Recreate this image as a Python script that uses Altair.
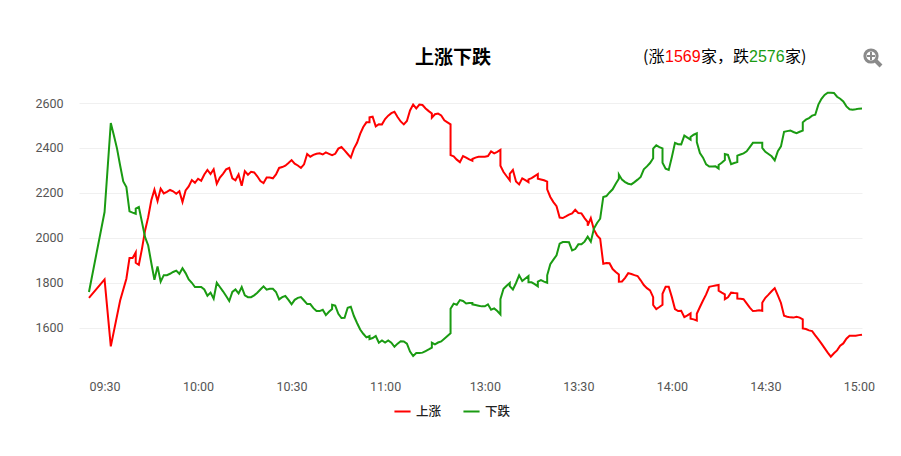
import json
import altair as alt
import pandas as pd

up_x = [0,5,7,10,12,13,14,15,15,16,17,18,19,20,21,22,23,24,25,26,27,28,29,30,31,32,33,34,35,36,37,38,39,40,41,42,43,44,45,46,47,48,49,50,51,52,53,54,55,56,57,58,59,60,61,62,63,64,65,66,67,68,69,70,71,72,73,74,75,76,77,
        78,79,80,81,82,83,84,85,86,87,88,89,90,90,91,92,93,94,95,96,97,98,99,100,101,102,103,104,105,106,107,108,109,110,110,111,112,113,114,115,116,116,117,118,119,120,121,122,123,123,124,125,126,127,128,129,130,131,132,132,133,134,135,135,136,137,138,139,140,141,141,142,143,144,144,145,146,147,147,148,149,150,151,152,153,154,155,156,157,158,159,160,160,
        161,162,163,164,165,166,167,168,169,170,170,171,172,173,174,175,176,177,178,179,180,181,181,182,183,184,184,185,186,187,188,189,190,191,192,193,193,194,195,195,196,197,198,199,200,201,202,202,203,204,204,205,206,207,208,208,209,210,211,212,213,214,215,216,216,217,218,219,220,221,222,223,224,225,226,227,228,229,229,230,231,232,233,234,235,236,237,238,239,240,241,242,243,244,245,246,247,248]
up_v = [1733,1815,1517,1721,1818,1910,1910,1935,1889,1880,1951,2033,2092,2167,2214,2164,2219,2198,2205,2213,2207,2196,2207,2159,2211,2229,2257,2245,2263,2254,2282,2302,2284,2305,2241,2268,2285,2305,2311,2265,2256,2282,2232,2297,2281,2294,2291,2274,2253,2244,2268,2268,2265,2282,2311,2315,2321,2333,2346,2330,2322,2311,2327,2373,2361,2369,2374,2376,2371,2380,2374,
        2368,2374,2397,2404,2389,2373,2357,2397,2423,2463,2493,2514,2514,2536,2539,2496,2506,2505,2529,2544,2555,2561,2538,2518,2505,2520,2567,2593,2576,2593,2591,2576,2564,2553,2535,2550,2553,2545,2523,2514,2505,2368,2363,2348,2337,2364,2357,2349,2343,2351,2357,2361,2361,2361,2364,2385,2376,2383,2392,2321,2293,2274,2256,2285,2302,2251,2238,2265,2257,2248,2260,2266,2275,2284,2263,2260,2256,2250,2216,2182,2159,2141,2090,2088,2095,2103,2109,2125,2110,2109,2088,2070,2054,
        2088,2036,2011,1996,1885,1888,1887,1861,1848,1837,1805,1806,1822,1843,1839,1834,1830,1811,1790,1776,1766,1736,1701,1683,1692,1702,1751,1782,1782,1736,1683,1674,1675,1647,1655,1664,1640,1637,1632,1662,1692,1721,1748,1782,1785,1788,1790,1765,1756,1748,1727,1735,1756,1754,1753,1730,1729,1727,1708,1689,1674,1675,1678,1675,1711,1733,1747,1762,1776,1744,1710,1653,1649,1646,1645,1649,1645,1637,1597,1594,1588,1585,1566,1548,1529,1509,1489,1471,1486,1499,1520,1530,1551,1564,1564,1564,1567,1569]

down_x = [0,5,7,8,9,10,11,12,13,14,15,15,16,17,18,19,20,21,22,23,24,25,26,27,28,29,30,31,32,33,34,35,36,37,38,39,40,41,42,43,44,45,46,47,48,49,50,51,52,53,54,55,56,57,58,59,60,61,62,63,64,65,66,67,68,69,70,71,72,73,74,75,76,77,
          78,78,79,80,81,82,83,84,85,86,87,88,89,90,90,91,92,93,94,95,96,97,98,99,100,101,102,103,104,105,106,107,108,109,110,110,111,112,113,114,115,116,116,117,118,119,120,121,122,123,123,124,125,126,127,128,129,130,131,132,132,133,134,135,135,136,137,138,139,140,141,141,142,143,144,144,145,146,147,147,148,149,150,151,152,153,154,155,156,157,158,159,160,
          161,162,163,164,165,166,167,168,169,170,170,171,172,173,174,175,176,177,178,179,180,181,181,182,183,184,184,185,186,187,188,189,190,191,192,193,193,194,195,195,196,197,198,199,200,201,202,202,203,204,204,205,206,207,208,208,209,210,211,212,213,214,215,216,216,217,218,219,220,221,222,223,224,225,226,227,228,229,229,230,231,232,233,234,235,236,237,238,239,240,241,242,243,244,245,246,247,248]
down_v = [1759,2115,2511,2456,2397,2322,2251,2226,2118,2112,2107,2130,2137,2070,2003,1966,1888,1813,1873,1805,1834,1834,1840,1848,1854,1840,1865,1843,1815,1800,1781,1781,1781,1770,1742,1756,1729,1800,1781,1762,1741,1719,1759,1770,1753,1781,1744,1736,1736,1744,1756,1770,1784,1769,1773,1773,1759,1726,1736,1741,1724,1704,1724,1733,1736,1721,1705,1705,1687,1674,1674,1680,1656,1671,
          1683,1702,1698,1662,1643,1644,1689,1693,1652,1621,1592,1573,1557,1563,1549,1554,1563,1533,1543,1534,1543,1533,1515,1529,1540,1539,1529,1494,1474,1487,1487,1489,1496,1503,1511,1533,1526,1534,1539,1551,1563,1575,1684,1707,1702,1723,1719,1708,1710,1710,1704,1701,1698,1695,1695,1704,1680,1686,1674,1659,1727,1773,1787,1799,1785,1770,1799,1833,1808,1819,1830,1802,1802,1794,1784,1805,1812,1805,1800,1833,1883,1903,1922,1974,1981,1981,1980,1944,1950,1971,1971,1983,2005,
          1983,2041,2066,2085,2182,2186,2202,2216,2241,2263,2282,2259,2248,2241,2238,2248,2259,2271,2305,2318,2333,2354,2397,2412,2404,2398,2334,2308,2302,2360,2423,2417,2416,2455,2446,2437,2449,2459,2465,2426,2377,2357,2327,2317,2317,2318,2308,2324,2334,2346,2373,2369,2328,2333,2337,2366,2371,2376,2385,2404,2423,2423,2423,2423,2400,2383,2373,2363,2345,2386,2407,2472,2475,2478,2471,2466,2472,2477,2514,2526,2533,2544,2548,2593,2619,2636,2646,2646,2645,2628,2619,2607,2585,2572,2570,2572,2575,2576]

tick_x = [5,35,65,95,127,157,187,217,247]
tick_labels = ["09:30","10:00","10:30","11:00","13:00","13:30","14:00","14:30","15:00"]
y_ticks = [1600,1800,2000,2200,2400,2600]
series = ["上涨","下跌"]
colors = ["#ff0000","#1a9b12"]
title_text = "上涨下跌"
UP_TOTAL, DOWN_TOTAL = "1569", "2576"

rows = [{"n":x,"v":v,"s":series[0],"i":i} for i,(x,v) in enumerate(zip(up_x,up_v))]
rows += [{"n":x,"v":v,"s":series[1],"i":i} for i,(x,v) in enumerate(zip(down_x,down_v))]
df = pd.DataFrame(rows)

LEFT, TOP = 79, 90
W, H = 783, 286
label_map = json.dumps({str(k):v for k,v in zip(tick_x,tick_labels)}, ensure_ascii=False)
x_enc = alt.X("n:Q", scale=alt.Scale(domain=[-3.2,248], nice=False, zero=False),
    axis=alt.Axis(values=tick_x, labelExpr=f"{label_map}[''+datum.value]", title=None, grid=False,
                  domain=False, ticks=False, labelFont="Roboto", labelFontSize=12.5, labelColor="#555555",
                  labelPadding=4, labelOverlap=False, labelFlush=False))
y_enc = alt.Y("v:Q", scale=alt.Scale(domain=[1385,2658], nice=False, zero=False),
    axis=alt.Axis(values=y_ticks, format="d", title=None, grid=True, gridColor="#f0f0f0", gridWidth=1, domain=False,
                  ticks=False, labelFont="Roboto", labelFontSize=12.5, labelColor="#555555",
                  labelPadding=16))
lines = alt.Chart(df).mark_line(strokeWidth=2, interpolate="linear").encode(
    x=x_enc, y=y_enc, order="i:Q",
    color=alt.Color("s:N", scale=alt.Scale(domain=series, range=colors), title=None,
        legend=alt.Legend(orient="none", legendX=395-LEFT-2, legendY=402-TOP, direction="horizontal",
            symbolType="stroke", symbolSize=260, symbolStrokeWidth=2, labelFont="Noto Sans CJK SC",
            labelFontSize=12.5, labelFontWeight=500, labelColor="#222222", columnPadding=17, labelOffset=4)))

def label(text, px, py, color="#000000", size=16, weight="normal", align="left", font="Noto Sans CJK SC"):
    return alt.Chart(pd.DataFrame({"t":[text]})).mark_text(
        align=align, baseline="middle", fontSize=size, fontWeight=weight, color=color, font=font
    ).encode(text="t:N", x=alt.value(px-LEFT), y=alt.value(py-TOP))

texts = [
    label(title_text, 453, 58, size=19, weight="bold", align="center"),
    label("(涨", 643, 57),
    label(UP_TOTAL, 665, 57, color=colors[0], font="Liberation Sans"),
    label("家，跌", 701, 57),
    label(DOWN_TOTAL, 749, 57, color=colors[1], font="Liberation Sans"),
    label("家)", 785, 57),
]
icon_color = "#8a8a8a"
def seg(x1,y1,x2,y2,w):
    return alt.Chart(pd.DataFrame({"a":[0]})).mark_rule(color=icon_color, strokeWidth=w).encode(
        x=alt.value(x1-LEFT), x2=alt.value(x2-LEFT), y=alt.value(y1-TOP), y2=alt.value(y2-TOP))
ring = alt.Chart(pd.DataFrame({"a":[0]})).mark_point(size=150, filled=False, color=icon_color, strokeWidth=3, opacity=1).encode(
    x=alt.value(871-LEFT), y=alt.value(56-TOP))
icon = [ring, seg(867,56,875,56,2), seg(871,52,871,60,2), seg(876,61,881,66,4)]

chart = alt.layer(lines, *texts, *icon).properties(
    width=W, height=H,
    padding={"left":LEFT-8,"top":TOP-8,"right":31,"bottom":70},
    autosize=alt.AutoSizeParams(type="none"),
).configure_view(stroke=None)
chart.save("out.html", embed_options={"renderer":"svg","actions":False})
